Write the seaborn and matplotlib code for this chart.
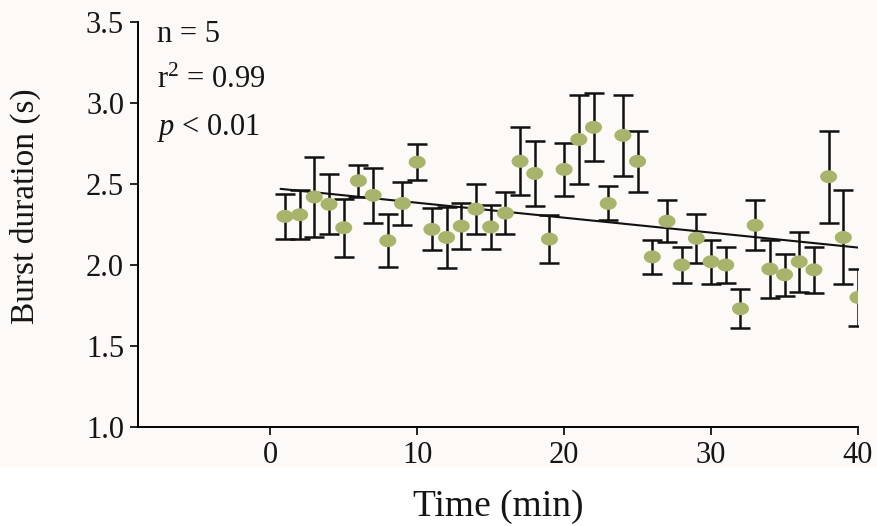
import numpy as np
import pandas as pd
import matplotlib
matplotlib.use("Agg")
import matplotlib.pyplot as plt
from matplotlib.path import Path
import seaborn as sns

# ---- data ----
time_min = list(range(1, 41))
burst_mean = [2.30, 2.31, 2.42, 2.375, 2.23, 2.52, 2.43, 2.15, 2.38, 2.635,
              2.22, 2.17, 2.24, 2.345, 2.235, 2.32, 2.64, 2.565, 2.16, 2.59,
              2.775, 2.85, 2.38, 2.80, 2.64, 2.05, 2.27, 2.00, 2.165, 2.02,
              2.00, 1.73, 2.245, 1.975, 1.94, 2.02, 1.97, 2.545, 2.17, 1.80]
burst_err = [0.14, 0.15, 0.245, 0.185, 0.18, 0.10, 0.17, 0.165, 0.135, 0.11,
             0.13, 0.19, 0.14, 0.155, 0.135, 0.13, 0.21, 0.20, 0.15, 0.165,
             0.275, 0.21, 0.105, 0.25, 0.19, 0.105, 0.13, 0.11, 0.15, 0.135,
             0.11, 0.12, 0.155, 0.18, 0.13, 0.185, 0.14, 0.285, 0.29, 0.175]
fit_x = [0.7, 40.5]
fit_y = [2.470, 2.103]
x_ticks = [0, 10, 20, 30, 40]
y_ticks = [1.0, 1.5, 2.0, 2.5, 3.0, 3.5]
stats_lines = ["n = 5", "r$^{2}$ = 0.99", "$\\it{p}$ < 0.01"]

df = pd.DataFrame({"Time": time_min, "Burst": burst_mean, "err": burst_err})
fit_df = pd.DataFrame({"Time": fit_x, "Burst": fit_y})

sns.set_theme(style="ticks")
plt.rcParams["font.family"] = ["Liberation Serif", "DejaVu Serif"]
plt.rcParams["mathtext.fontset"] = "custom"
plt.rcParams["mathtext.rm"] = "Liberation Serif"
plt.rcParams["mathtext.it"] = "Liberation Serif:italic"

fig = plt.figure(figsize=(8.77, 5.26), dpi=100)
fig.patch.set_facecolor("white")
# off-white scanned background above the x label
bg = plt.Rectangle((0, 1 - 467 / 526), 1, 467 / 526, transform=fig.transFigure,
                   facecolor="#fdf9f6", edgecolor="none", zorder=-10)
fig.add_artist(bg)
ax = fig.add_axes([138 / 877, 1 - 427 / 526, (858 - 138) / 877, (427 - 22) / 526])
ax.set_facecolor("none")
ax.set_zorder(1)

ax.errorbar(df["Time"], df["Burst"], yerr=df["err"], fmt="none",
            ecolor="#111111", elinewidth=1.8, capsize=7.5, capthick=1.8, zorder=2)

sns.lineplot(data=fit_df, x="Time", y="Burst", color="#111111", lw=1.5,
             ax=ax, zorder=3)

t = np.linspace(0, 2 * np.pi, 60)
ellipse = Path(np.column_stack([np.cos(t), 0.76 * np.sin(t)]), closed=True)
sns.scatterplot(data=df, x="Time", y="Burst", marker=ellipse, s=150,
                color="#a9b46b", edgecolor="none", linewidth=0, ax=ax, zorder=4)

ax.set_xlim(-9, 40)
ax.set_ylim(1.0, 3.5)
ax.set_xticks(x_ticks)
ax.set_yticks(y_ticks)
ax.set_yticklabels([f"{v:.1f}" for v in y_ticks])
ax.tick_params(axis="both", direction="out", length=6, width=1.2,
               labelsize=22, color="black", labelcolor="#151515", pad=4)
for s in ["top", "right"]:
    ax.spines[s].set_visible(False)
for s in ["left", "bottom"]:
    ax.spines[s].set_linewidth(1.4)
    ax.spines[s].set_color("black")

ax.set_xlabel("Time (min)", fontsize=27, color="#151515", labelpad=14)
ax.set_ylabel("Burst duration (s)", fontsize=24, color="#151515")
ax.yaxis.set_label_coords(-0.135, 0.546)

for i, line in enumerate(stats_lines):
    ax.text(0.026, 1.005 - i * 0.113, line, transform=ax.transAxes,
            fontsize=22, color="#151515", va="top", ha="left")

fig.savefig("out.png", dpi=100)
